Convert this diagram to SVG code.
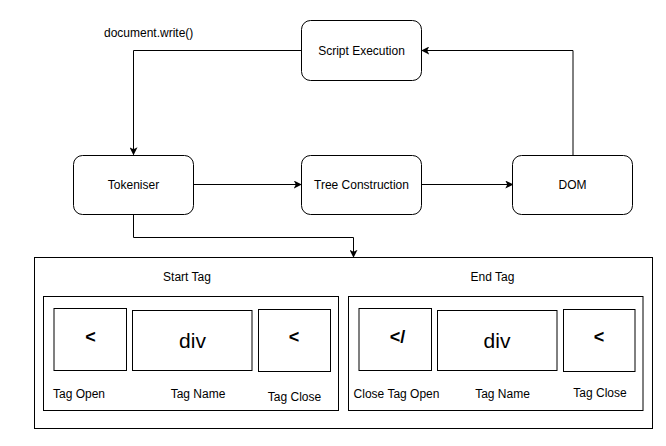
<svg xmlns="http://www.w3.org/2000/svg" width="666" height="446" viewBox="0 0 666 446">
<style>
.node{fill:#fff;stroke:#000;stroke-width:1}
.box{fill:none;stroke:#000;stroke-width:1}
.t{font-family:"Liberation Sans",Arial,sans-serif;font-size:12px;fill:#000}
.c{text-anchor:middle}
.big{font-size:21px}
.sym{font-size:18px;font-weight:bold}
.edge{fill:none;stroke:#000;stroke-width:1}
</style>
<defs>
<marker id="arr" viewBox="0 0 10 10" refX="9" refY="5" markerWidth="8" markerHeight="8" markerUnits="userSpaceOnUse" orient="auto">
<path d="M0,0 L10,5 L0,10 L2.5,5 Z" fill="#000"/>
</marker>
</defs>
<rect width="666" height="446" fill="#fff"/>
<g id="connectors">
<path class="edge" d="M301.5,50.5 H133.5 V154.5" marker-end="url(#arr)"/>
<path class="edge" d="M573,155 V50.5 H422" marker-end="url(#arr)"/>
<path class="edge" d="M193.5,184.5 H301" marker-end="url(#arr)" stroke="#555"/>
<path class="edge" d="M421.5,184.5 H512.5" marker-end="url(#arr)"/>
<path class="edge" d="M133.5,214.5 V237.5 H353.5 V257" marker-end="url(#arr)"/>
<text class="t" x="104" y="37">document.write()</text>
</g>
<g id="script-execution">
<rect class="node" x="301.5" y="20.5" width="120" height="60" rx="9"/>
<text class="t c" x="361.5" y="54.5">Script Execution</text>
</g>
<g id="tokeniser">
<rect class="node" x="73.5" y="155.5" width="120" height="59" rx="9"/>
<text class="t c" x="133.5" y="189">Tokeniser</text>
</g>
<g id="tree-construction">
<rect class="node" x="301.5" y="155.5" width="120" height="59" rx="9"/>
<text class="t c" x="361.5" y="189">Tree Construction</text>
</g>
<g id="dom">
<rect class="node" x="512.5" y="155.5" width="120" height="59" rx="9"/>
<text class="t c" x="572.5" y="189">DOM</text>
</g>
<g id="token-container">
<rect class="box" x="34.5" y="257.5" width="618" height="171"/>
</g>
<g id="start-tag">
<text class="t c" x="187" y="281">Start Tag</text>
<rect class="box" x="43.5" y="296.5" width="295" height="114"/>
<rect class="box" x="54" y="308.5" width="72.5" height="62"/>
<text class="t c sym" x="90.5" y="343">&lt;</text>
<rect class="box" x="132.5" y="310.5" width="119.5" height="60"/>
<text class="t c big" x="192.5" y="348">div</text>
<rect class="box" x="258.5" y="309.5" width="72" height="62"/>
<text class="t c sym" x="294" y="343">&lt;</text>
<text class="t" x="53" y="398">Tag Open</text>
<text class="t c" x="198" y="398">Tag Name</text>
<text class="t c" x="294.5" y="401">Tag Close</text>
</g>
<g id="end-tag">
<text class="t c" x="492.5" y="281">End Tag</text>
<rect class="box" x="348.5" y="296.5" width="294.5" height="114"/>
<rect class="box" x="359" y="308.5" width="72.5" height="62"/>
<text class="t c sym" x="397.5" y="343">&lt;/</text>
<rect class="box" x="437.5" y="310.5" width="119.5" height="60"/>
<text class="t c big" x="497" y="348">div</text>
<rect class="box" x="563.5" y="309.5" width="71.5" height="62"/>
<text class="t c sym" x="599" y="343">&lt;</text>
<text class="t c" x="396.5" y="398">Close Tag Open</text>
<text class="t c" x="502.5" y="398">Tag Name</text>
<text class="t c" x="600" y="397">Tag Close</text>
</g>
</svg>
